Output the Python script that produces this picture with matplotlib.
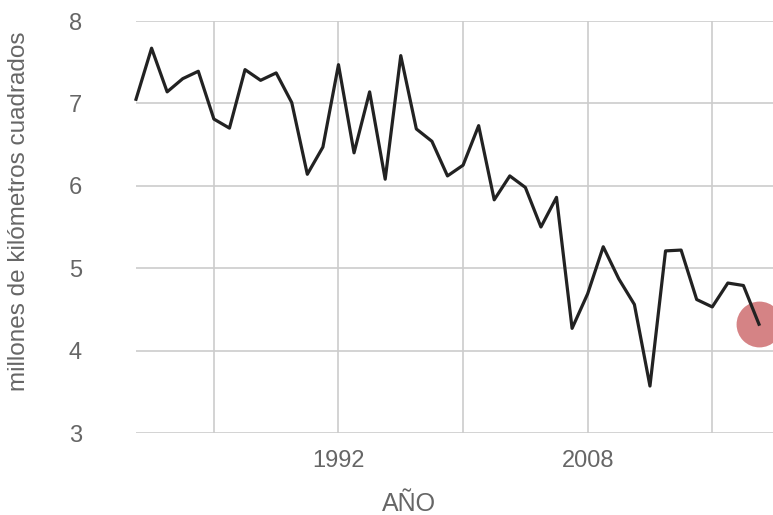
import matplotlib
matplotlib.use("Agg")
import matplotlib.pyplot as plt

# Arctic sea ice minimum extent (million km2)
years = list(range(1979, 2020))
extent = [7.05, 7.67, 7.14, 7.30, 7.39, 6.81, 6.70, 7.41, 7.28, 7.37,
          7.01, 6.14, 6.47, 7.47, 6.40, 7.14, 6.08, 7.58, 6.69, 6.54,
          6.12, 6.25, 6.73, 5.83, 6.12, 5.98, 5.50, 5.86, 4.27, 4.69,
          5.26, 4.87, 4.56, 3.57, 5.21, 5.22, 4.62, 4.53, 4.82, 4.79,
          4.32]
grid_years = [1984, 1992, 2000, 2008, 2016]
labelled_years = [1992, 2008]
y_ticks = [3, 4, 5, 6, 7, 8]

plt.rcParams['font.family'] = ['Liberation Sans', 'DejaVu Sans']
txt = '#666666'

fig = plt.figure(figsize=(7.73, 5.15), dpi=100)
ax = fig.add_axes([136/773, 1 - 433/515, 637/773, 412/515])

ax.plot(years[-1], extent[-1], 'o', ms=33, color='#c44e52', alpha=0.7,
        mec='none', zorder=2, clip_on=False)
ax.plot(years, extent, color='#222222', lw=2.3, zorder=3, clip_on=False)

ax.set_xlim(1979, 2019.9)
ax.set_ylim(3, 8)
ax.set_xticks(grid_years)
ax.set_xticklabels([str(y) if y in labelled_years else '' for y in grid_years])
ax.set_yticks(y_ticks)

for s in ax.spines.values():
    s.set_visible(False)
ax.grid(True, color='#cccccc', lw=1.2)
ax.set_axisbelow(True)
ax.tick_params(axis='both', length=0, labelsize=17, colors=txt)
ax.tick_params(axis='y', pad=39)
ax.tick_params(axis='x', pad=12)

ax.set_ylabel('millones de kilómetros cuadrados', fontsize=17.5, color=txt)
ax.yaxis.set_label_coords(-0.166, 0.539)
ax.set_xlabel('AÑO', fontsize=18, color=txt)
ax.xaxis.set_label_coords(0.429, -0.143)

fig.savefig('out.png', dpi=100)
